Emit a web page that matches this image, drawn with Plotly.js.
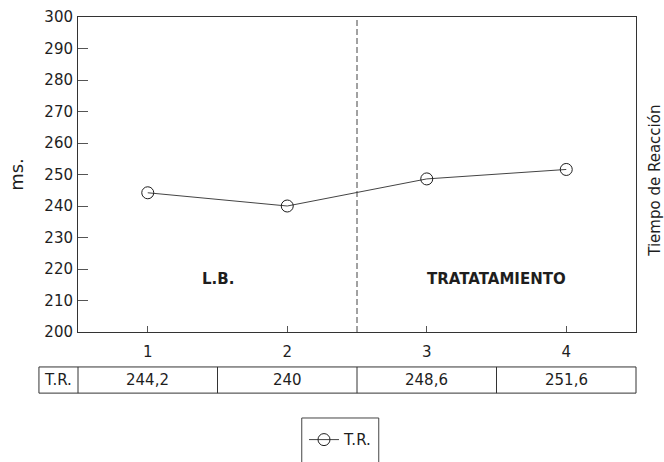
<!DOCTYPE html>
<html>
<head>
<meta charset="utf-8">
<script src="https://cdn.plot.ly/plotly-3.0.1.min.js"></script>
<style>html,body{margin:0;padding:0;background:#fff;}#chart{width:664px;height:462px;}</style>
</head>
<body>
<div id="chart"></div>
<script>
const sessions = [1, 2, 3, 4];
const tiempoReaccion = [244.2, 240, 248.6, 251.6];
const tableLabels = ["244,2", "240", "248,6", "251,6"];
const seriesName = "T.R.";
const phaseLabels = ["L.B.", "TRATATAMIENTO"];
const phaseCenters = [1.5, 3.5];
const phaseDivider = 2.5;
const yTicks = [200, 210, 220, 230, 240, 250, 260, 270, 280, 290, 300];

const font = "DejaVu Sans, Liberation Sans, Arial, sans-serif";
const ink = "#1e1e1e";
const rule = "#333";

const trace = {
  x: sessions, y: tiempoReaccion, name: seriesName,
  type: "scatter", mode: "lines+markers",
  line: {color: "#444", width: 1},
  marker: {symbol: "circle-open", size: 12, color: ink, line: {width: 1, color: ink}},
  cliponaxis: false
};

const shapes = [
  {type: "line", xref: "x", yref: "paper", x0: phaseDivider, x1: phaseDivider, y0: 0, y1: 1,
   line: {color: "#444", width: 1, dash: "6px,3px"}}
];
// data table under the x axis
const tableTop = -0.111, tableBot = -0.194;
const labelCellLeft = -0.07; // paper fraction, left of the plot area
shapes.push({type: "rect", xref: "paper", yref: "paper", x0: labelCellLeft, x1: 1,
  y0: tableBot, y1: tableTop, line: {color: rule, width: 1}});
shapes.push({type: "line", xref: "paper", yref: "paper", x0: 0, x1: 0,
  y0: tableBot, y1: tableTop, line: {color: rule, width: 1}});
sessions.slice(0, -1).forEach(s => shapes.push({type: "line", xref: "x", yref: "paper",
  x0: s + 0.5, x1: s + 0.5, y0: tableBot, y1: tableTop, line: {color: rule, width: 1}}));
// legend frame (runs off the bottom of the figure, as in the original)
shapes.push({type: "rect", xref: "paper", yref: "paper", x0: 0.401, x1: 0.539, y0: -0.273, y1: -0.47,
  line: {color: "#444", width: 1}});

const annotations = [];
phaseLabels.forEach((t, i) => annotations.push({x: phaseCenters[i], y: 216.8, xref: "x", yref: "y",
  text: "<b>" + t + "</b>", showarrow: false, yanchor: "middle", font: {family: font, size: 15, color: ink}}));
const rowMid = (tableTop + tableBot) / 2;
annotations.push({x: labelCellLeft / 2, y: rowMid, xref: "paper", yref: "paper", xanchor: "center", yanchor: "middle",
  text: seriesName, showarrow: false, font: {family: font, size: 15, color: ink}});
sessions.forEach((s, i) => annotations.push({x: s, y: rowMid, xref: "x", yref: "paper", xanchor: "center", yanchor: "middle",
  text: tableLabels[i], showarrow: false, font: {family: font, size: 15, color: ink}}));
annotations.push({x: 1.034, y: 0.48, xref: "paper", yref: "paper", text: "Tiempo de Reacción",
  textangle: -90, showarrow: false, xanchor: "center", yanchor: "middle", font: {family: font, size: 15, color: ink}});

const layout = {
  width: 664, height: 462,
  margin: {l: 78, r: 28, t: 17, b: 130, autoexpand: false},
  paper_bgcolor: "#fff", plot_bgcolor: "#fff",
  font: {family: font, size: 15, color: ink},
  xaxis: {range: [0.5, 4.5], tickvals: sessions, ticks: "inside", ticklen: 6, tickcolor: "#555",
    showline: true, linecolor: rule, linewidth: 1, mirror: true, showgrid: false, zeroline: false,
    tickfont: {size: 15}, ticklabelstandoff: 6, automargin: false},
  yaxis: {range: [200, 300], tickvals: yTicks, ticks: "inside", ticklen: 10, tickcolor: "#555",
    showline: true, linecolor: rule, linewidth: 1, mirror: true, showgrid: false, zeroline: false,
    tickfont: {size: 15}, ticklabelstandoff: 1, automargin: false,
    title: {text: "ms.", font: {size: 18}, standoff: 16}},
  showlegend: true,
  legend: {x: 0.405, y: -0.29, xanchor: "left", yanchor: "top", borderwidth: 0,
    bgcolor: "rgba(0,0,0,0)", font: {size: 15}, itemwidth: 30},
  shapes: shapes, annotations: annotations
};
Plotly.newPlot("chart", [trace], layout, {displayModeBar: false, staticPlot: true});
</script>
</body>
</html>
